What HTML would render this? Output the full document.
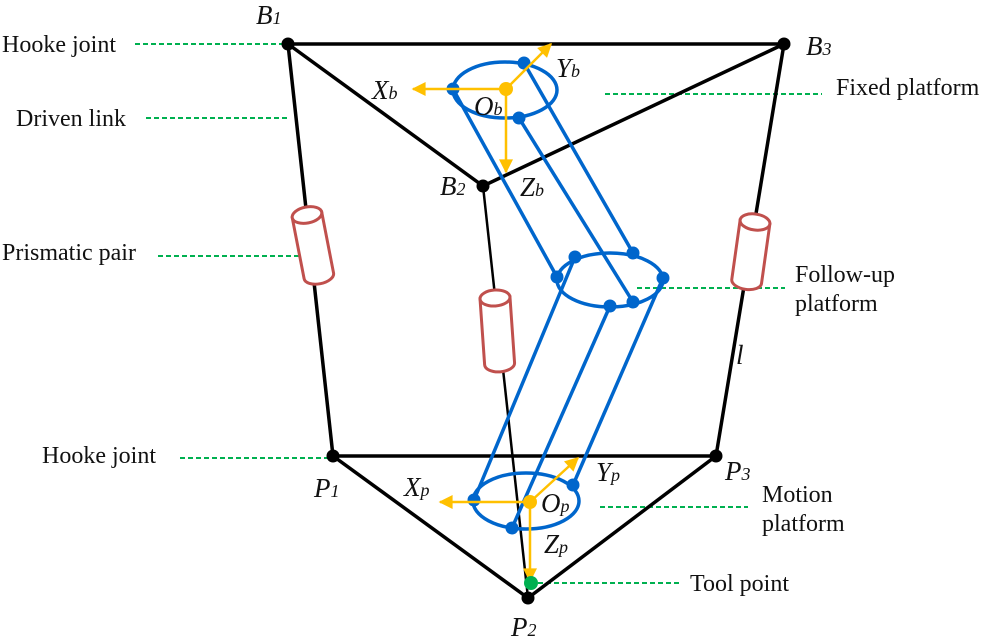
<!DOCTYPE html>
<html><head><meta charset="utf-8"><style>
html,body{margin:0;padding:0;background:#fff;}
svg{display:block;}
text{font-family:"Liberation Serif","Times New Roman",serif;fill:#111;}
.lab{font-size:24px;}
.sym{font-size:27px;font-style:italic;}
.sub{font-size:18px;}
</style></head><body>
<svg width="993" height="639" viewBox="0 0 993 639" xmlns="http://www.w3.org/2000/svg" font-family="Liberation Serif, serif">
<defs>
<marker id="ar" viewBox="0 0 10 10" refX="9" refY="5" markerWidth="15" markerHeight="14" orient="auto" markerUnits="userSpaceOnUse">
<path d="M0,0 L10,5 L0,10 z" fill="#FFC000"/>
</marker>
</defs>
<g stroke="#00B050" stroke-width="2" stroke-dasharray="5,3" fill="none">
<line x1="135" y1="44" x2="283" y2="44"/>
<line x1="146" y1="118" x2="290" y2="118"/>
<line x1="158" y1="256" x2="302" y2="256"/>
<line x1="180" y1="458" x2="328" y2="458"/>
<line x1="605" y1="94" x2="822" y2="94"/>
<line x1="637" y1="288" x2="785" y2="288"/>
<line x1="600" y1="507" x2="748" y2="507"/>
<line x1="538" y1="583" x2="680" y2="583"/>
</g>
<g stroke="#000" stroke-width="3.5" fill="none" stroke-linejoin="round">
<line x1="288" y1="44" x2="784" y2="44"/>
<line x1="288" y1="44" x2="483" y2="186"/>
<line x1="784" y1="44" x2="483" y2="186"/>
<line x1="288" y1="44" x2="333" y2="456"/>
<line x1="784" y1="44" x2="716" y2="456"/>
<line x1="333" y1="456" x2="716" y2="456"/>
<line x1="333" y1="456" x2="528" y2="598"/>
<line x1="716" y1="456" x2="528" y2="598"/>
</g>
<line x1="483" y1="186" x2="528" y2="598" stroke="#000" stroke-width="2.5"/>
<g stroke="#C0504D" stroke-width="3" fill="#fff">
<g transform="translate(307,215) rotate(-11)">
<path d="M-15,0 L-15,62 A15,8 0 0 0 15,62 L15,0 Z"/><ellipse cx="0" cy="0" rx="15" ry="8"/></g>
<g transform="translate(495,298) rotate(-4)">
<path d="M-15,0 L-15,66 A15,8 0 0 0 15,66 L15,0 Z"/><ellipse cx="0" cy="0" rx="15" ry="8"/></g>
<g transform="translate(755,222) rotate(8)">
<path d="M-15,0 L-15,60 A15,8 0 0 0 15,60 L15,0 Z"/><ellipse cx="0" cy="0" rx="15" ry="8"/></g>
</g>
<g stroke="#0066CC" stroke-width="3.5" fill="none">
<ellipse cx="505" cy="90" rx="52" ry="28"/>
<ellipse cx="610" cy="280" rx="53" ry="27"/>
<ellipse cx="526" cy="501" rx="53" ry="28"/>
<line x1="453" y1="89" x2="557" y2="277"/>
<line x1="524" y1="63" x2="633" y2="253"/>
<line x1="519" y1="118" x2="633" y2="302"/>
<line x1="575" y1="257" x2="474" y2="500"/>
<line x1="610" y1="306" x2="512" y2="528"/>
<line x1="663" y1="278" x2="573" y2="485"/>
</g>
<g fill="#0066CC">
<circle cx="453" cy="89" r="6.5"/><circle cx="524" cy="63" r="6.5"/><circle cx="519" cy="118" r="6.5"/>
<circle cx="557" cy="277" r="6.5"/><circle cx="575" cy="257" r="6.5"/><circle cx="633" cy="253" r="6.5"/>
<circle cx="663" cy="278" r="6.5"/><circle cx="610" cy="306" r="6.5"/><circle cx="633" cy="302" r="6.5"/>
<circle cx="474" cy="500" r="6.5"/><circle cx="573" cy="485" r="6.5"/><circle cx="512" cy="528" r="6.5"/>
</g>
<g stroke="#FFC000" stroke-width="2.5" fill="none" marker-end="url(#ar)">
<line x1="506" y1="89" x2="413" y2="89"/>
<line x1="506" y1="89" x2="551" y2="44"/>
<line x1="506" y1="89" x2="506" y2="172"/>
<line x1="530" y1="502" x2="440" y2="502"/>
<line x1="530" y1="502" x2="578" y2="458"/>
<line x1="530" y1="502" x2="530" y2="581"/>
</g>
<circle cx="506" cy="89" r="7" fill="#FFC000"/>
<circle cx="530" cy="502" r="7" fill="#FFC000"/>
<g fill="#000">
<circle cx="288" cy="44" r="6.5"/><circle cx="784" cy="44" r="6.5"/><circle cx="483" cy="186" r="6.5"/>
<circle cx="333" cy="456" r="6.5"/><circle cx="716" cy="456" r="6.5"/><circle cx="528" cy="598" r="6.5"/>
</g>
<circle cx="531" cy="583" r="7" fill="#00B050"/>
<text class="lab" x="2" y="52">Hooke joint</text>
<text class="lab" x="16" y="126">Driven link</text>
<text class="lab" x="2" y="260">Prismatic pair</text>
<text class="lab" x="42" y="463">Hooke joint</text>
<text class="lab" x="836" y="95">Fixed platform</text>
<text class="lab" x="795" y="282">Follow-up</text>
<text class="lab" x="795" y="311">platform</text>
<text class="lab" x="762" y="502">Motion</text>
<text class="lab" x="762" y="531">platform</text>
<text class="lab" x="690" y="591">Tool point</text>
<text class="sym" x="736" y="364">l</text>
<text class="sym" x="256" y="24">B<tspan class="sub">1</tspan></text>
<text class="sym" x="806" y="55">B<tspan class="sub">3</tspan></text>
<text class="sym" x="440" y="195">B<tspan class="sub">2</tspan></text>
<text class="sym" x="314" y="497">P<tspan class="sub">1</tspan></text>
<text class="sym" x="725" y="480">P<tspan class="sub">3</tspan></text>
<text class="sym" x="511" y="636">P<tspan class="sub">2</tspan></text>
<text class="sym" x="372" y="99">X<tspan class="sub">b</tspan></text>
<text class="sym" x="556" y="77">Y<tspan class="sub">b</tspan></text>
<text class="sym" x="474" y="115">O<tspan class="sub">b</tspan></text>
<text class="sym" x="520" y="196">Z<tspan class="sub">b</tspan></text>
<text class="sym" x="404" y="496">X<tspan class="sub">p</tspan></text>
<text class="sym" x="596" y="481">Y<tspan class="sub">p</tspan></text>
<text class="sym" x="541" y="512">O<tspan class="sub">p</tspan></text>
<text class="sym" x="544" y="553">Z<tspan class="sub">p</tspan></text>
</svg>
</body></html>
